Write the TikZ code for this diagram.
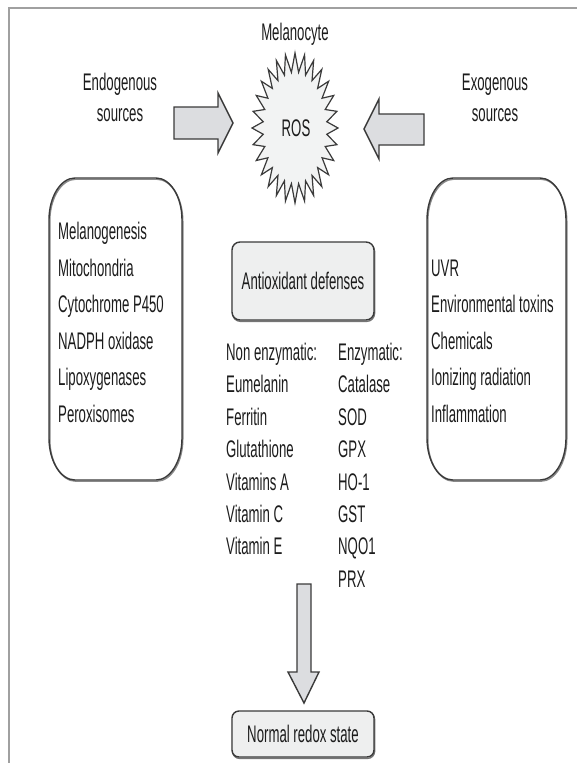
\documentclass[tikz,border=0pt]{standalone}
\usepackage{fontspec}
\setmainfont{Liberation Sans}[FakeStretch=0.55]
\definecolor{ink}{HTML}{1C1C1C}
\definecolor{edge}{HTML}{3A3A3A}
\definecolor{arrowfill}{HTML}{DCDDE0}
\definecolor{starfill}{HTML}{F2F3F3}
\definecolor{boxfill}{HTML}{EEEFEF}
\definecolor{framegray}{HTML}{A0A0A0}
\tikzset{
  txt/.style={inner sep=0pt, text=ink},
  lst/.style={txt, anchor=base west},
  ctr/.style={txt, anchor=base},
  blockarrow/.style={fill=arrowfill, draw=edge, line width=1.4pt, line join=miter},
  sidebox/.style={draw=edge, line width=1.4pt,
     preaction={draw=edge!60, line width=1.4pt, transform canvas={xshift=0.8pt,yshift=-1.2pt}}},
  minbox/.style={draw=edge, fill=boxfill, line width=1.4pt, rounded corners=8pt,
     inner sep=0pt, text=ink, minimum width=142pt,
     preaction={draw=edge!70, line width=1.4pt, transform canvas={xshift=0.6pt,yshift=-1.4pt}}},
  starshape/.style={fill=starfill, draw=edge, line width=1.2pt, line join=miter},
}
\newcommand\ellrect[6]{%
  \draw[sidebox] ({#1+#5},#2) -- ({#3-#5},#2)
    arc[start angle=-90,end angle=0,x radius=#5,y radius=#6] -- (#3,{#4-#6})
    arc[start angle=0,end angle=90,x radius=#5,y radius=#6] -- ({#1+#5},#4)
    arc[start angle=90,end angle=180,x radius=#5,y radius=#6] -- (#1,{#2+#6})
    arc[start angle=180,end angle=270,x radius=#5,y radius=#6] -- cycle;}
\begin{document}
\begin{tikzpicture}[x=1pt,y=-1pt,font=\fontsize{24}{31}\selectfont]
\useasboundingbox (0,0) rectangle (577,763);
% frame
\draw[framegray, line width=2pt] (9,775) -- (9,8) -- (590,8);
% title
\node[ctr] (mel) at (295,40.5) {Melanocyte};
% star
\draw[starshape] (295,53)
  \foreach \i in {1,...,55} { -- ({295+(43-11*mod(\i,2))*cos(-90+\i*6.428571)},{128+(75-19*mod(\i,2))*sin(-90+\i*6.428571)}) } -- cycle;
\node[ctr] (ros) at (296,136) {ROS};
% source labels
\node[txt, align=center, anchor=base] (endo) at (120,121.5) {Endogenous\\sources};
\node[txt, align=center, anchor=base] (exo) at (495,121.5) {Exogenous\\sources};
% block arrows
\draw[blockarrow] (174,107) -- (218,107) -- (218,93) -- (233,123) -- (218,153) -- (218,139) -- (174,139) -- cycle;
\draw[blockarrow] (424,114) -- (379,114) -- (379,99) -- (364,129) -- (379,159) -- (379,145) -- (424,145) -- cycle;
% side boxes
\ellrect{49}{178}{182}{480}{26}{42}
\ellrect{427}{178}{566}{480}{26}{42}
\node[lst] (e1) at (58,239.5) {Melanogenesis};
\node[lst] (e2) at (58,276) {Mitochondria};
\node[lst] (e3) at (58,312.5) {Cytochrome P450};
\node[lst] (e4) at (58,349) {NADPH oxidase};
\node[lst] (e5) at (58,385.5) {Lipoxygenases};
\node[lst] (e6) at (58,422) {Peroxisomes};
\node[lst] (x1) at (431,276) {UVR};
\node[lst] (x2) at (431,312.5) {Environmental toxins};
\node[lst] (x3) at (431,349) {Chemicals};
\node[lst] (x4) at (431,385.5) {Ionizing radiation};
\node[lst] (x5) at (431,422) {Inflammation};
% antioxidant box
\node[minbox, minimum height=78pt] (anti) at (303,281) {Antioxidant defenses};
% lists
\foreach \t [count=\k from 0] in {Non enzymatic:,Eumelanin,Ferritin,Glutathione,Vitamins A,Vitamin C,Vitamin E}
  \node[lst] (n\k) at (226,{360.5+32.4*\k}) {\t};
\foreach \t [count=\k from 0] in {Enzymatic:,Catalase,SOD,GPX,HO-1,GST,NQO1,PRX}
  \node[lst] (z\k) at (338,{360.5+32.4*\k}) {\t};
% down arrow
\draw[blockarrow] (297,584) -- (311,584) -- (311,672) -- (319,672) -- (304,703) -- (288,672) -- (297,672) -- cycle;
% normal redox
\node[minbox, minimum height=46pt, rounded corners=7pt] (redox) at (303,734) {Normal redox state};
\end{tikzpicture}
\end{document}
